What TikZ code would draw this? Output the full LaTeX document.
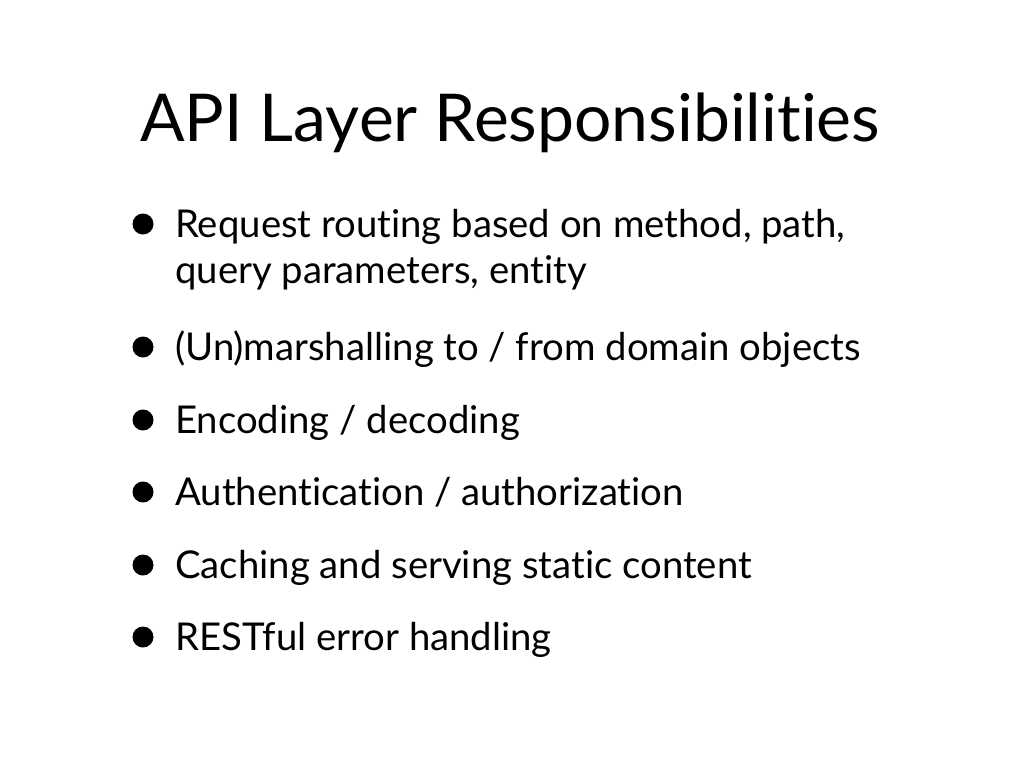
\documentclass[tikz,border=0pt]{standalone}
\usepackage{fontspec}
\setmainfont{Lato}[Ligatures={NoCommon,NoRequired,NoContextual,NoRare}]
\begin{document}
\begin{tikzpicture}[x=1pt,y=-1pt,
  title/.style={anchor=base west,inner sep=0pt,font=\fontsize{66}{66}\selectfont},
  item/.style={anchor=base west,inner sep=0pt,font=\fontsize{38.3}{38}\selectfont},
  dot/.style={circle,fill=black,inner sep=0pt,minimum size=21pt}]
\useasboundingbox[fill=white] (0,0) rectangle (1024,768);
\node[title] (t) at (140,141) {API Layer Responsibilities};
\node[item] (l1a) at (175,237) {Request routing based on method, path,};
\node[item] (l1b) at (175,283) {query parameters, entity};
\node[item] (l2) at (175,360) {(Un)marshalling to / from domain objects};
\node[item] (l3) at (175,433) {Encoding / decoding};
\node[item] (l4) at (175,505) {Authentication / authorization};
\node[item] (l5) at (175,578) {Caching and serving static content};
\node[item] (l6) at (175,650) {RESTful error handling};
\node[dot] (b1) at (143,224) {};
\node[dot] (b2) at (143,347) {};
\node[dot] (b3) at (143,420) {};
\node[dot] (b4) at (143,492) {};
\node[dot] (b5) at (143,565) {};
\node[dot] (b6) at (143,637) {};
\end{tikzpicture}
\end{document}
